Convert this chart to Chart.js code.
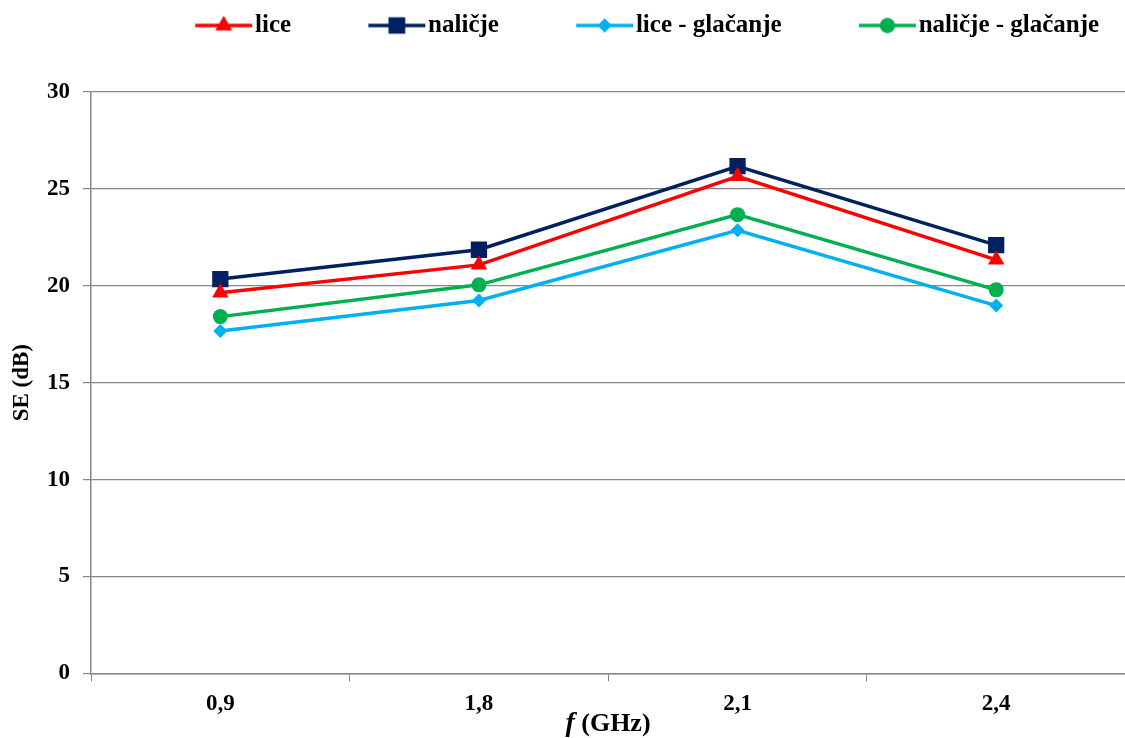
<!DOCTYPE html>
<html>
<head>
<meta charset="utf-8">
<script src="https://cdn.jsdelivr.net/npm/chart.js@4/dist/chart.umd.min.js"></script>
<style>
  html, body { margin: 0; padding: 0; background: #fff; overflow: hidden; }
  #wrap { width: 1137px; height: 738px; }
</style>
</head>
<body>
<div id="wrap"><canvas id="seChart"></canvas></div>
<script>
// podaci očitani sa slike
const frekvencije = ['0,9', '1,8', '2,1', '2,4'];
const lice = [19.64, 21.08, 25.65, 21.34];
const nalicje = [20.35, 21.86, 26.17, 22.1];
const liceGlacanje = [17.67, 19.24, 22.86, 18.98];
const nalicjeGlacanje = [18.41, 20.05, 23.67, 19.79];
const yTicks = [0, 5, 10, 15, 20, 25, 30];

const FONT = "'Liberation Serif', 'Times New Roman', serif";
const GRID = '#868686';
const LEG_FONT = 25;
const GAP = 77;        // prazno mjesto ispred svake stavke legende
const LINE_LEN = 57;   // duljina crte u legendi
const BOX_W = GAP + LINE_LEN + 3 - LEG_FONT / 2;

// sličica za legendu: crta + marker (crta završava tik uz tekst)
function legendIcon(color, style, r) {
  const c = document.createElement('canvas');
  c.width = Math.round(BOX_W + LEG_FONT);
  c.height = 26;
  const g = c.getContext('2d');
  const x2 = c.width - 3, x1 = x2 - LINE_LEN, y = 13;
  g.strokeStyle = color; g.lineWidth = 3.5;
  g.beginPath(); g.moveTo(x1, y); g.lineTo(x2, y); g.stroke();
  g.fillStyle = color;
  Chart.helpers.drawPoint(g, { pointStyle: style, radius: r, rotation: 0, borderWidth: 0 }, (x1 + x2) / 2, y);
  g.fill();
  return c;
}

const series = [
  { label: 'lice', data: lice, color: '#FF0000', style: 'triangle', r: 9.5 },
  { label: 'naličje', data: nalicje, color: '#002060', style: 'rect', r: 11.5 },
  { label: 'lice - glačanje', data: liceGlacanje, color: '#00B0F0', style: 'rectRot', r: 7 },
  { label: 'naličje - glačanje', data: nalicjeGlacanje, color: '#00B050', style: 'circle', r: 7.5 }
];

// legenda: dodatni razmak ispod i pomak na mjesto iz originala
const legendPlace = {
  id: 'legendPlace',
  beforeLayout(chart) {
    const L = chart.legend;
    if (!L._origFit) {
      L._origFit = L.fit;
      L.fit = function () { this._origFit(); this.height = 79; };
    }
  },
  afterLayout(chart) {
    chart.legend.left = 195 - GAP;
  }
};

// naslov x osi: kurzivno f + (GHz)
const xTitle = {
  id: 'xTitle',
  afterDraw(chart) {
    const ctx = chart.ctx;
    const area = chart.chartArea;
    const cx = (area.left + 1125) / 2;
    const y = 724;
    ctx.save();
    ctx.fillStyle = '#000';
    ctx.textBaseline = 'middle';
    ctx.textAlign = 'left';
    ctx.font = 'italic bold 28px ' + FONT;
    const fW = ctx.measureText('f').width;
    ctx.font = 'bold 26px ' + FONT;
    const rest = ' (GHz)';
    const rW = ctx.measureText(rest).width;
    const x0 = cx - (fW + rW) / 2;
    ctx.font = 'italic bold 28px ' + FONT;
    ctx.fillText('f', x0, y);
    ctx.font = 'bold 26px ' + FONT;
    ctx.fillText(rest, x0 + fW, y);
    ctx.restore();
  }
};

new Chart(document.getElementById('seChart'), {
  type: 'line',
  data: {
    labels: frekvencije,
    datasets: series.map(s => ({
      label: s.label,
      data: s.data,
      borderColor: s.color,
      backgroundColor: s.color,
      borderWidth: 3.5,
      pointStyle: s.style,
      pointRadius: s.r,
      pointHoverRadius: s.r,
      pointBorderWidth: 0,
      tension: 0,
      fill: false
    }))
  },
  options: {
    responsive: true,
    maintainAspectRatio: false,
    animation: false,
    layout: { padding: { left: 11, right: 0, top: 13, bottom: 11 } },
    plugins: {
      legend: {
        display: true,
        position: 'top',
        align: 'start',
        labels: {
          usePointStyle: true,
          pointStyleWidth: BOX_W,
          padding: 0,
          color: '#000',
          font: { family: FONT, size: LEG_FONT, weight: 'bold' },
          generateLabels: () => series.map((s, i) => ({
            text: s.label,
            pointStyle: legendIcon(s.color, s.style, s.r),
            fillStyle: s.color,
            strokeStyle: s.color,
            lineWidth: 0,
            hidden: false,
            datasetIndex: i,
            fontColor: '#000'
          }))
        }
      },
      tooltip: { enabled: false }
    },
    scales: {
      x: {
        offset: true,
        grid: { offset: true, drawOnChartArea: false, color: GRID, tickLength: 8 },
        border: { color: GRID, width: 1.5 },
        ticks: { color: '#000', padding: 9, font: { family: FONT, size: 23, weight: 'bold' } },
        title: { display: false }
      },
      y: {
        min: 0,
        max: 30,
        afterBuildTicks: axis => { axis.ticks = yTicks.map(v => ({ value: v })); },
        grid: { color: GRID, lineWidth: 1.2, tickLength: 8 },
        border: { color: GRID, width: 1.5 },
        ticks: { color: '#000', padding: 13, font: { family: FONT, size: 23, weight: 'bold' } },
        title: { display: true, text: 'SE (dB)', color: '#000', padding: { top: 0, bottom: 0 },
                 font: { family: FONT, size: 23, weight: 'bold', lineHeight: 1 } }
      }
    }
  },
  plugins: [legendPlace, xTitle]
});
</script>
</body>
</html>
